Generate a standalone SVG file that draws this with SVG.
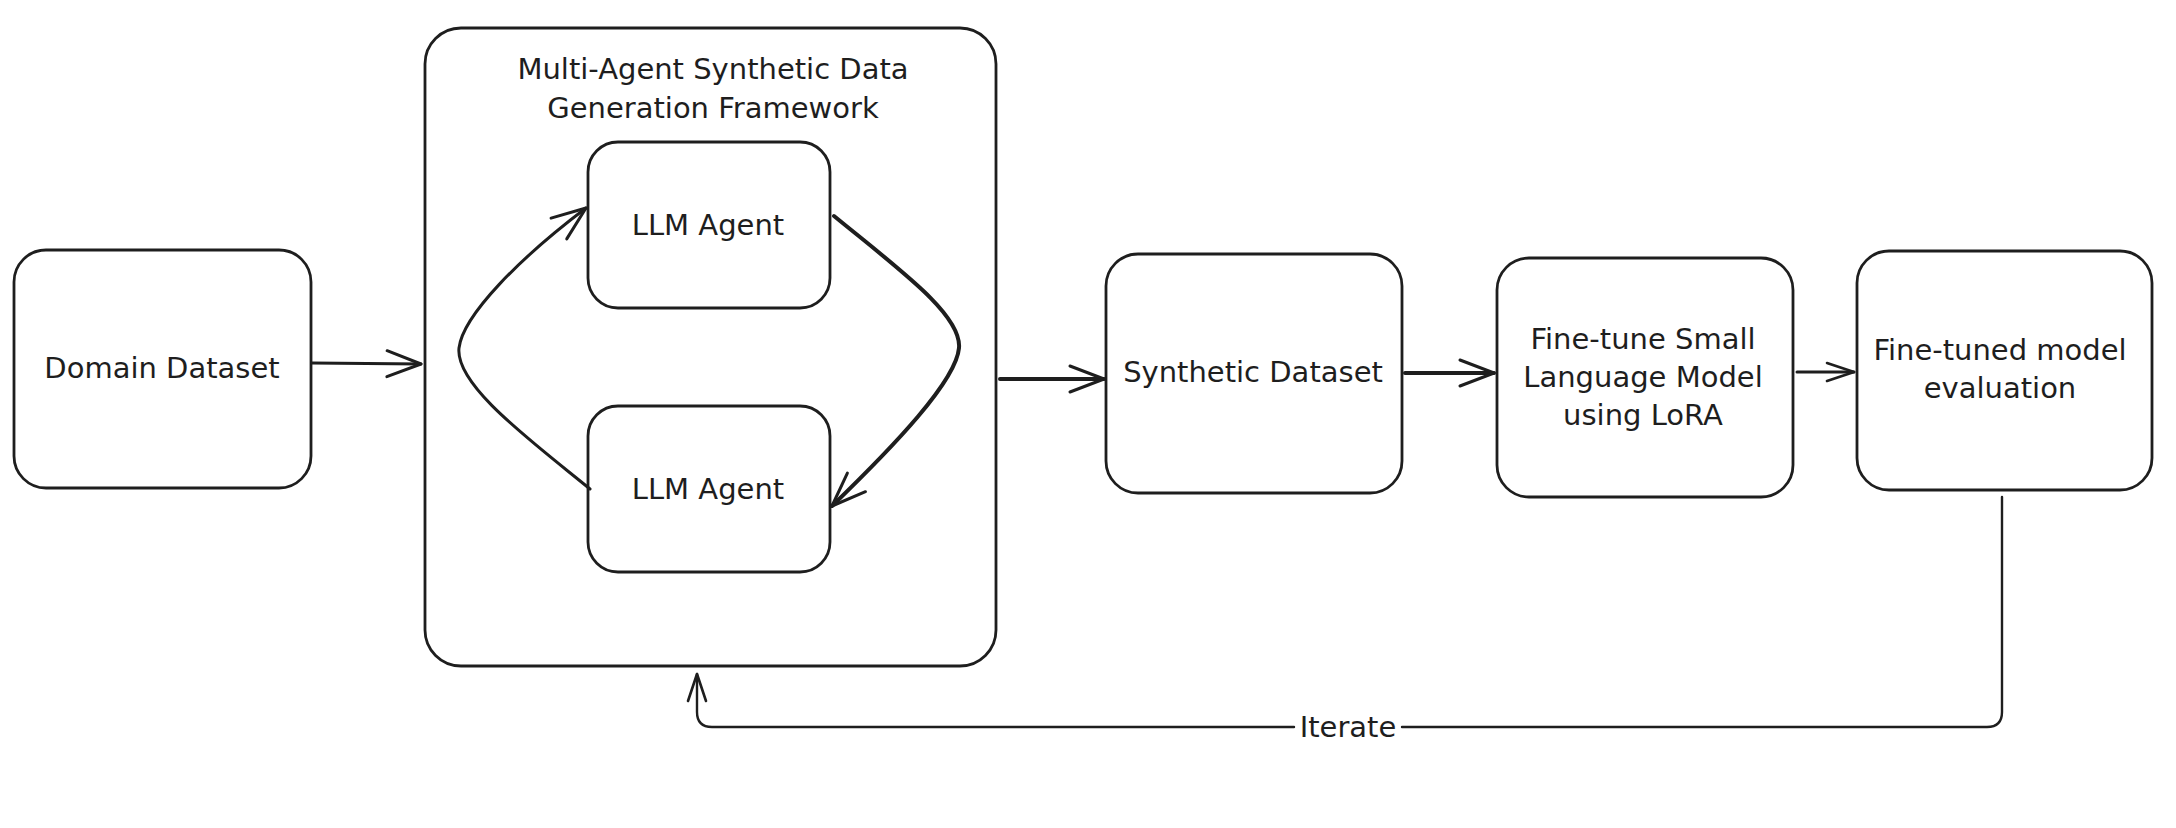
<svg xmlns="http://www.w3.org/2000/svg" width="2176" height="828" viewBox="0 0 2176 828">
<defs>
<style>
.box{fill:#ffffff;stroke:#1e1e1e;stroke-width:2.8}
.frame{fill:#ffffff;stroke:#1e1e1e;stroke-width:2.8}
.lbl{font-family:"DejaVu Sans","Liberation Sans",sans-serif;font-size:29px;fill:#1e1e1e;text-anchor:middle;dominant-baseline:central}
.edge{fill:none;stroke:#1e1e1e;stroke-width:3;stroke-linecap:round;stroke-linejoin:round}
.thick{stroke-width:4}
.thin{stroke-width:2.4}
</style>
<marker id="ah" markerUnits="userSpaceOnUse" markerWidth="60" markerHeight="60" viewBox="-40 -30 60 60" refX="0" refY="0" orient="auto" overflow="visible">
<path d="M-34,-13 L0,0 L-34,13" fill="none" stroke="#1e1e1e" stroke-width="3" stroke-linecap="round" stroke-linejoin="round"/>
</marker>
<marker id="ahs" markerUnits="userSpaceOnUse" markerWidth="60" markerHeight="60" viewBox="-40 -30 60 60" refX="0" refY="0" orient="auto" overflow="visible">
<path d="M-27,-9 L0,0 L-27,9" fill="none" stroke="#1e1e1e" stroke-width="2.6" stroke-linecap="round" stroke-linejoin="round"/>
</marker>
</defs>
<rect width="2176" height="828" fill="#ffffff"/>

<g id="framework">
<rect class="frame" x="425" y="28" width="571" height="638" rx="36"/>
<text class="lbl" x="713" y="69">Multi-Agent Synthetic Data</text>
<text class="lbl" x="713" y="108">Generation Framework</text>
</g>

<g id="domain-dataset">
<rect class="box" x="14" y="250" width="297" height="238" rx="32"/>
<text class="lbl" x="162" y="368">Domain Dataset</text>
</g>

<g id="llm-agent-top">
<rect class="box" x="588" y="142" width="242" height="166" rx="30"/>
<text class="lbl" x="708" y="225">LLM Agent</text>
</g>

<g id="llm-agent-bottom">
<rect class="box" x="588" y="406" width="242" height="166" rx="30"/>
<text class="lbl" x="708" y="489">LLM Agent</text>
</g>

<g id="synthetic-dataset">
<rect class="box" x="1106" y="254" width="296" height="239" rx="32"/>
<text class="lbl" x="1253" y="372">Synthetic Dataset</text>
</g>

<g id="fine-tune">
<rect class="box" x="1497" y="258" width="296" height="239" rx="32"/>
<text class="lbl" x="1643" y="339">Fine-tune Small</text>
<text class="lbl" x="1643" y="377">Language Model</text>
<text class="lbl" x="1643" y="415">using LoRA</text>
</g>

<g id="evaluation">
<rect class="box" x="1857" y="251" width="295" height="239" rx="32"/>
<text class="lbl" x="2000" y="350">Fine-tuned model</text>
<text class="lbl" x="2000" y="388">evaluation</text>
</g>

<g id="connectors">
<path class="edge" d="M312,363 L421,364" marker-end="url(#ah)"/>
<path class="edge thick" d="M1000,379 L1104,379" marker-end="url(#ah)"/>
<path class="edge thick" d="M1405,373 L1494,373" marker-end="url(#ah)"/>
<path class="edge" d="M1797,372 L1854,372" marker-end="url(#ahs)"/>
<path class="edge" d="M590,489 C530,440 455,385 459,348 C463,315 520,258 586,208" marker-end="url(#ah)"/>
<path class="edge thick" d="M834,216 C900,270 962,315 959,348 C956,381 895,445 832,506" marker-end="url(#ah)"/>
<path class="edge thin" d="M2002,497 L2002,712 Q2002,727 1987,727 L1402,727"/>
<path class="edge thin" d="M1294,727 L712,727 Q697,727 697,712 L697,674" marker-end="url(#ahs)"/>
<text class="lbl" x="1348" y="727">Iterate</text>
</g>
</svg>
